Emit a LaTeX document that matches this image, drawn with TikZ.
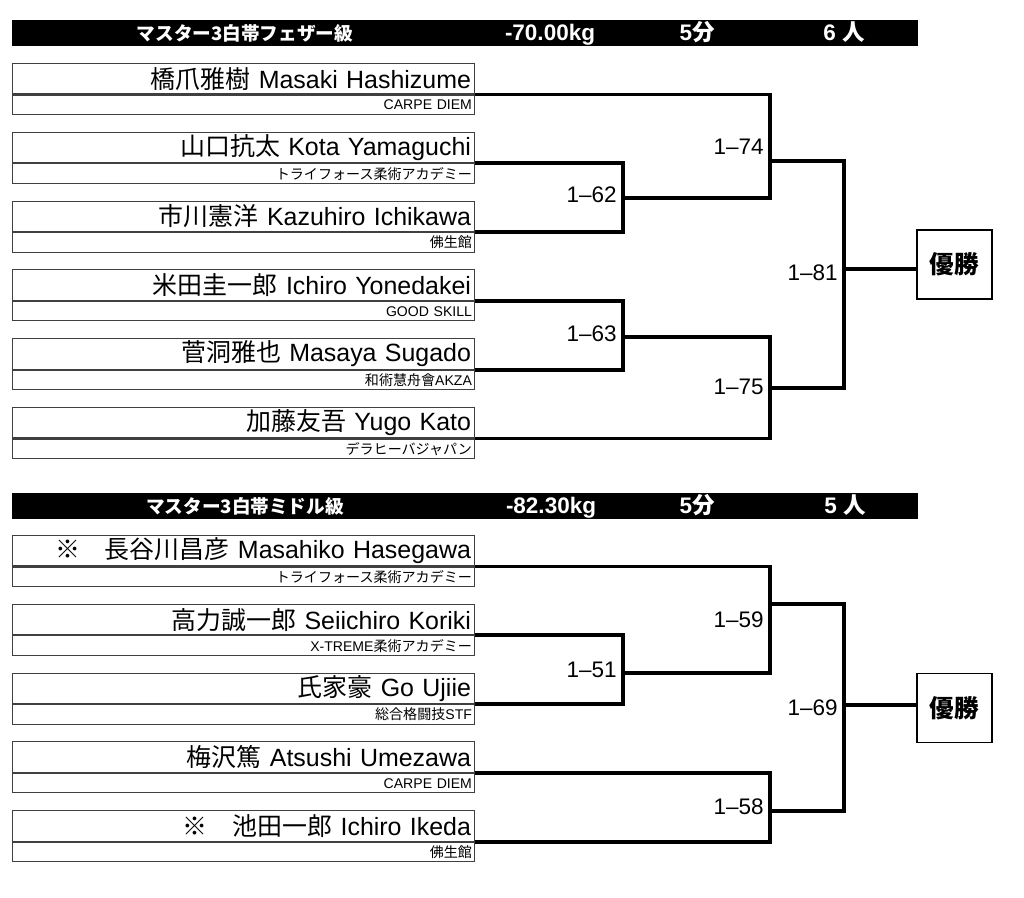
\documentclass[tikz,border=0pt]{standalone}
\usepackage{fontspec}
\setmainfont{Liberation Sans}
\newfontfamily\jp{Noto Sans CJK JP}
\usetikzlibrary{positioning}
\newcommand{\jn}[1]{{\jp #1}}
\tikzset{
  namebox/.style={draw=black!75, line width=0.6pt, minimum height=0.61cm,
    text width=9.1cm, inner xsep=0.08cm, inner ysep=0pt, align=right,
    font=\fontsize{14.2}{15}\selectfont},
  clubbox/.style={draw=black!75, line width=0.6pt, minimum height=0.39cm,
    text width=9.14cm, inner xsep=0.06cm, inner ysep=0pt, align=right,
    font=\fontsize{8}{9}\selectfont},
  hdrbar/.style={fill=black, minimum width=18.12cm, minimum height=0.52cm, inner sep=0pt},
  hdrtext/.style={text=white, inner sep=0pt, anchor=base, font=\bfseries\fontsize{12.8}{13}\selectfont},
  hdrclass/.style={text=white, inner sep=0pt, anchor=base, font=\jp\bfseries\fontsize{10.6}{12}\selectfont},
  bracket/.style={line width=2.2pt},
  score/.style={anchor=east, inner sep=0pt, xshift=-0.12cm, font=\fontsize{12.8}{13}\selectfont},
  winbox/.style={draw, line width=1.1pt, minimum width=1.5cm, minimum height=1.38cm,
    inner sep=0pt, font=\jp\bfseries\fontsize{14}{15}\selectfont}
}
\begin{document}
\begin{tikzpicture}[x=0.02cm,y=-0.02cm]
  \useasboundingbox (0,0) rectangle (1024,897);
  \fill[white] (0,0) rectangle (1024,897);

  % --- feather ---
  \node[hdrbar] (h1) at (465,33) {};
  \node[hdrclass] (c1) at (245,40) {マスター3白帯フェザー級};
  \node[hdrtext] (wt1) at (550,40) {-70.00kg};
  \node[hdrtext] (tm1) at (697,40) {5\jn{\bfseries 分}};
  \node[hdrtext] (nb1) at (844,40) {6 \jn{\bfseries 人}};
  \foreach \i/\nm/\cl in {
      1/\jn{橋爪雅樹} Masaki Hashizume/CARPE DIEM,
      2/\jn{山口抗太} Kota Yamaguchi/\jn{トライフォース柔術アカデミー},
      3/\jn{市川憲洋} Kazuhiro Ichikawa/\jn{佛生館},
      4/\jn{米田圭一郎} Ichiro Yonedakei/GOOD SKILL,
      5/\jn{菅洞雅也} Masaya Sugado/\jn{和術慧舟會}AKZA,
      6/\jn{加藤友吾} Yugo Kato/\jn{デラヒーバジャパン}} {
    \node[namebox] (p\i) at (243.5,{78.75+68.8*(\i-1)}) {\nm};
    \node[clubbox, below=0pt of p\i] (pc\i) {\cl};
  }
  \coordinate (j62) at (623,198);
  \coordinate (j74) at (770,161);
  \coordinate (j63) at (623,337);
  \coordinate (j75) at (770,388);
  \coordinate (j81) at (844,269);
  \node[winbox] (w1) at (954.5,264.5) {優勝};
  \draw[bracket] (p2.south east) -| (j62) |- (p3.south east);
  \draw[bracket] (p1.south east) -| (j74) |- (j62);
  \draw[bracket] (p4.south east) -| (j63) |- (p5.south east);
  \draw[bracket] (j63) -| (j75) |- (p6.south east);
  \draw[bracket] (j74) -| (j81) |- (j75);
  \draw[bracket] (j81) -- (j81 -| w1.west);
  \node[score] (s62) at (623,195) {1--62};
  \node[score] (s74) at (770,147) {1--74};
  \node[score] (s63) at (623,334) {1--63};
  \node[score] (s75) at (770,387) {1--75};
  \node[score] (s81) at (844,273) {1--81};

  % --- middle ---
  \node[hdrbar] (h2) at (465,506) {};
  \node[hdrclass] (c2) at (245,513) {マスター3白帯ミドル級};
  \node[hdrtext] (wt2) at (551,513) {-82.30kg};
  \node[hdrtext] (tm2) at (697,513) {5\jn{\bfseries 分}};
  \node[hdrtext] (nb2) at (845,513) {5 \jn{\bfseries 人}};
  \foreach \i/\nm/\cl in {
      1/\jn{※　長谷川昌彦} Masahiko Hasegawa/\jn{トライフォース柔術アカデミー},
      2/\jn{高力誠一郎} Seiichiro Koriki/X-TREME\jn{柔術アカデミー},
      3/\jn{氏家豪} Go Ujiie/\jn{総合格闘技}STF,
      4/\jn{梅沢篤} Atsushi Umezawa/CARPE DIEM,
      5/\jn{※　池田一郎} Ichiro Ikeda/\jn{佛生館}} {
    \node[namebox] (q\i) at (243.5,{550.75+68.8*(\i-1)}) {\nm};
    \node[clubbox, below=0pt of q\i] (qc\i) {\cl};
  }
  \coordinate (j51) at (623,673);
  \coordinate (j59) at (770,604);
  \coordinate (j58) at (770,811);
  \coordinate (j69) at (844,705);
  \node[winbox] (w2) at (954.5,708) {優勝};
  \draw[bracket] (q2.south east) -| (j51) |- (q3.south east);
  \draw[bracket] (q1.south east) -| (j59) |- (j51);
  \draw[bracket] (q4.south east) -| (j58) |- (q5.south east);
  \draw[bracket] (j59) -| (j69) |- (j58);
  \draw[bracket] (j69) -- (j69 -| w2.west);
  \node[score] (s51) at (623,670) {1--51};
  \node[score] (s59) at (770,620) {1--59};
  \node[score] (s58) at (770,807) {1--58};
  \node[score] (s69) at (844,708) {1--69};
\end{tikzpicture}
\end{document}
